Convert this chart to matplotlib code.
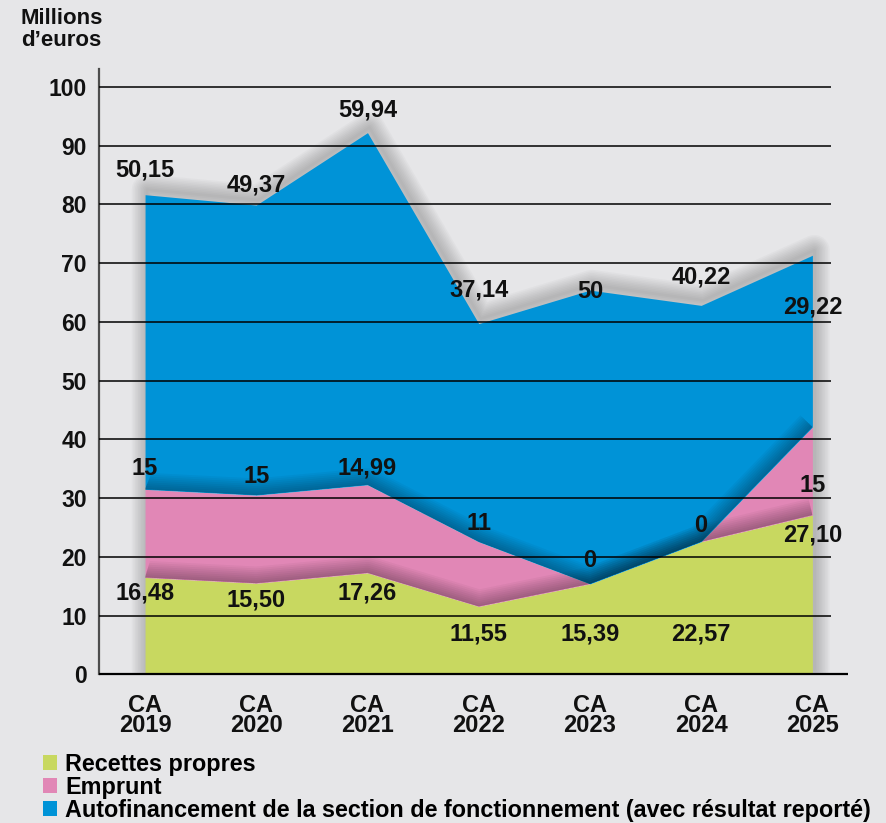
import numpy as np
import matplotlib
matplotlib.use('Agg')
import matplotlib.pyplot as plt
import matplotlib.transforms as mtransforms
from matplotlib.path import Path
from matplotlib.patches import Patch

plt.rcParams['font.family'] = ['Liberation Sans', 'DejaVu Sans']
plt.rcParams['font.weight'] = 'bold'

# Montants en millions d'euros, par compte administratif
categories = ['CA\n2019', 'CA\n2020', 'CA\n2021', 'CA\n2022', 'CA\n2023', 'CA\n2024', 'CA\n2025']
recettes = [16.48, 15.50, 17.26, 11.55, 15.39, 22.57, 27.10]
emprunt = [15, 15, 14.99, 11, 0, 0, 15]
autofin = [50.15, 49.37, 59.94, 37.14, 50, 40.22, 29.22]
series_names = ['Recettes propres', 'Emprunt',
                'Autofinancement de la section de fonctionnement (avec résultat reporté)']

# hauteur des étiquettes (unités de l'axe)
lab_y_recettes = [13.8, 12.6, 13.8, 6.9, 6.9, 6.9, 23.7]
lab_y_emprunt = [35.1, 33.6, 35.1, 25.6, 19.4, 25.3, 32.2]
lab_y_autofin = [85.8, 83.2, 96.0, 65.4, 65.2, 67.7, 62.5]

BG = '#e6e6e8'
GREEN = '#c8d860'
PINK = '#e187b6'
BLUE = '#0093d7'
INK = '#111111'


def fmt(v):
    if float(v).is_integer():
        return str(int(v))
    return f'{v:.2f}'.replace('.', ',')


x = np.arange(len(categories))
g = np.array(recettes)
ge = g + np.array(emprunt)
tot = ge + np.array(autofin)

fig = plt.figure(figsize=(8.87, 8.23), dpi=100, facecolor=BG)
ax = fig.add_axes([0.112, 0.1807, 0.844, 0.736])
ax.set_facecolor(BG)
ax.set_xlim(-0.411, 6.32)
ax.set_ylim(0, 103.1)

# ombre grise autour du contour de l'empilement
sx = np.concatenate([[x[0]], x, [x[-1]]])
sy = np.concatenate([[0], tot, [0]])
shadow_tr = mtransforms.offset_copy(ax.transData, fig=fig, x=2, y=5, units='dots')
for w in np.linspace(2, 22, 10):
    ax.plot(sx, sy, color='#606060', lw=w, alpha=0.04, zorder=1,
            solid_joinstyle='round', solid_capstyle='round', transform=shadow_tr)

ax.fill_between(x, 0, g, color=GREEN, lw=0, zorder=2)
ax.fill_between(x, g, ge, color=PINK, lw=0, zorder=2)
ax.fill_between(x, ge, tot, color=BLUE, lw=0, zorder=2)


def band(lower, upper):
    verts = np.concatenate([np.column_stack([x, lower]),
                            np.column_stack([x[::-1], upper[::-1]])])
    return Path(verts, closed=True)


# ombres portées à l'intérieur des couches supérieures
for edge, lower, upper in [(g, g, tot), (ge, ge, tot)]:
    clip = band(lower, upper)
    for w in np.linspace(2, 24, 9):
        ln, = ax.plot(x, edge, color='black', lw=w, alpha=0.035, zorder=3,
                      solid_joinstyle='round', solid_capstyle='butt')
        ln.set_clip_path(clip, ax.transData)

# quadrillage
ax.hlines(np.arange(10, 101, 10), -0.411, 6.17, colors='black', lw=1.1, zorder=6)
ax.hlines(0, -0.411, 6.32, colors='black', lw=1.6, zorder=6, clip_on=False)

for vals, ys in [(recettes, lab_y_recettes), (emprunt, lab_y_emprunt), (autofin, lab_y_autofin)]:
    for xi, v, yi in zip(x, vals, ys):
        ax.text(xi, yi, fmt(v), ha='center', va='center', fontsize=17,
                fontweight='bold', color=INK, zorder=7)

for s in ['top', 'right', 'bottom']:
    ax.spines[s].set_visible(False)
ax.spines['left'].set_color('#4d4d4d')
ax.spines['left'].set_linewidth(1.6)

ax.set_yticks(np.arange(0, 101, 10))
ax.set_xticks(x)
ax.set_xticklabels(categories, fontsize=17, linespacing=0.85)
ax.tick_params(axis='y', length=0, pad=9, labelsize=16.5, labelcolor=INK)
ax.tick_params(axis='x', length=0, pad=14, labelcolor=INK)

fig.text(21 / 887, 1 - 8 / 823, 'Millions\nd’euros', ha='left', va='top',
         fontsize=16, fontweight='bold', color=INK, linespacing=1.05)

handles = [Patch(facecolor=c, edgecolor='none') for c in (GREEN, PINK, BLUE)]
fig.legend(handles, series_names, loc='upper left', bbox_to_anchor=(43 / 887, 1 - 753 / 823),
           frameon=False, fontsize=16.8, handlelength=0.6, handleheight=0.6,
           handletextpad=0.35, labelspacing=0.0, borderpad=0, borderaxespad=0)

fig.savefig('out.png', dpi=100, facecolor=BG)
